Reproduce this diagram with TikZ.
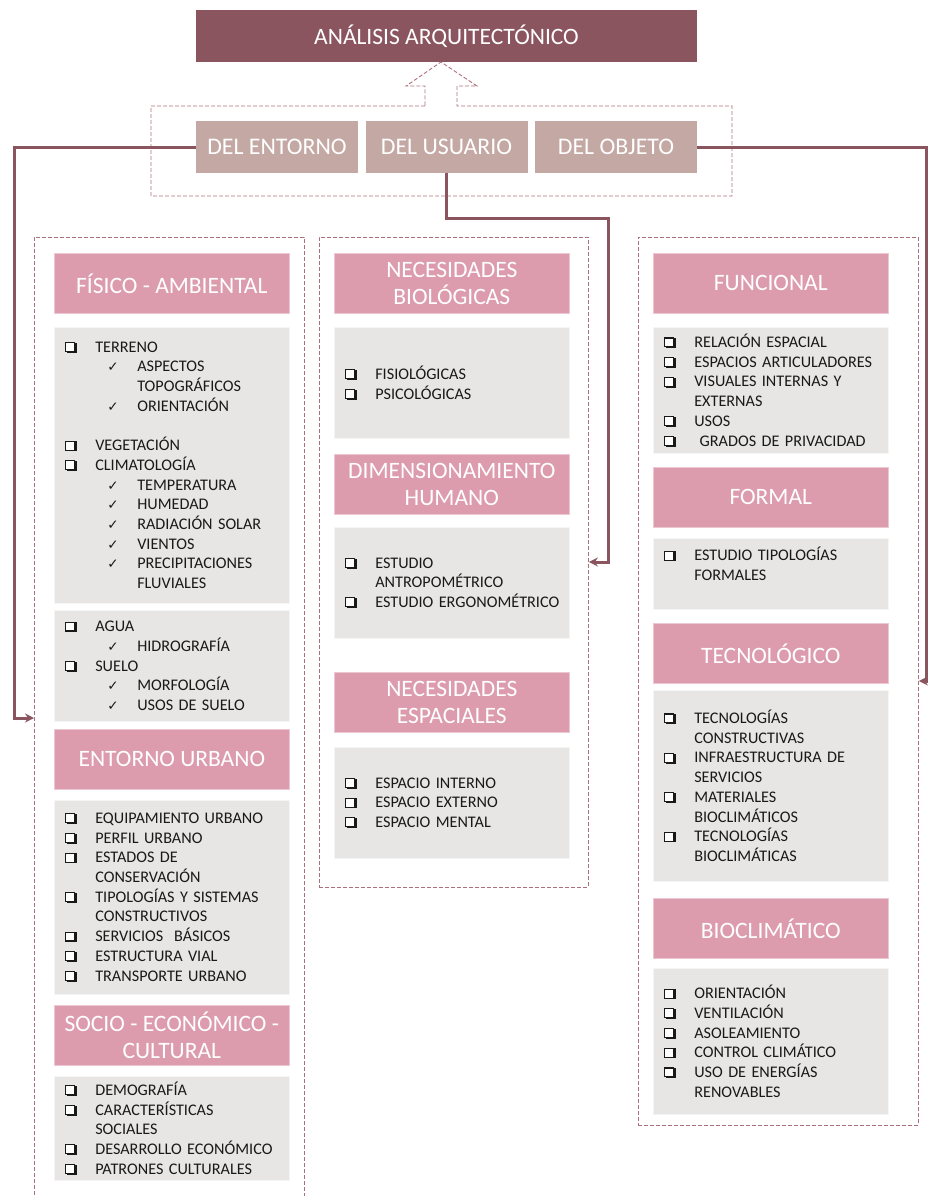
\documentclass[tikz,border=0pt]{standalone}
\usepackage{fontspec}
\setmainfont{Carlito}
\newfontfamily\symfam{DejaVu Sans}
\usepackage{tikz}
\usetikzlibrary{arrows.meta}
\definecolor{mauve}{RGB}{139,85,96}
\definecolor{dusty}{RGB}{196,168,164}
\definecolor{rosa}{RGB}{220,156,174}
\definecolor{gris}{RGB}{231,230,229}
\definecolor{dashline}{RGB}{172,112,124}
\definecolor{tinta}{RGB}{25,25,25}
\tikzset{>={Stealth[length=9pt,width=9pt]}}
\tikzset{%
    titlebox/.style={fill=mauve, text=white, minimum width=501pt, minimum height=52pt,
        inner sep=0pt, font=\fontsize{23.5}{27}\selectfont},
    groupbox/.style={fill=dusty, text=white, minimum width=162pt, minimum height=51pt,
        inner sep=0pt, font=\fontsize{23.8}{27}\selectfont},
    headbox/.style={fill=rosa, draw=rosa!55!white, line width=0.6pt, text=white,
        minimum width=235pt, minimum height=60pt, inner sep=0pt, anchor=north west,
        align=center, font=\fontsize{23.5}{27}\selectfont},
    itembox/.style={fill=gris, draw=gris!40!white, line width=0.6pt, text=tinta,
        text width=213pt, inner xsep=11pt, inner ysep=0pt, minimum height=#1,
        anchor=north west, align=left, font=\fontsize{16.2}{19.7}\selectfont},
    colframe/.style={draw=dashline, line width=0.9pt, dash pattern=on 4pt off 2pt,
        inner sep=0pt, anchor=north west},
    link/.style={draw=mauve, line width=3pt, ->}
}
% shadowed check box
\newcommand{\caja}{\raisebox{1.2pt}{\setlength{\fboxsep}{0pt}\setlength{\fboxrule}{1.1pt}%
    \rlap{\hspace*{1.8pt}\raisebox{-1.8pt}{\color{tinta}\rule{10pt}{10pt}}}%
    \fcolorbox{tinta}{white}{\rule{0pt}{7.8pt}\rule{7.8pt}{0pt}}}}
\newcommand{\itm}[1]{\makebox[30pt][l]{\caja}\mbox{#1}}
\newcommand{\sig}[1]{\hspace*{30pt}\mbox{#1}}
\newcommand{\chq}[1]{\hspace*{42pt}\makebox[30pt][l]{{\symfam\fontsize{13.5}{13.5}\selectfont ✓}}\mbox{#1}}
\newcommand{\chqsig}[1]{\hspace*{72pt}\mbox{#1}}

\begin{document}
\begin{tikzpicture}[x=1pt,y=-1pt]
    \useasboundingbox (0,0) rectangle (928,1196);
    \node[titlebox] (analisis) at (446.5,36) {ANÁLISIS ARQUITECTÓNICO};
    % dashed frame round the three groups, with the hollow arrow
    \draw[colframe] (425,106) -- (151,106) -- (151,196) -- (732,196) -- (732,106)
        -- (457,106) -- (457,86) -- (477,86) -- (441,62) -- (406,86) -- (425,86) -- cycle;
    \node[groupbox] (entorno) at (277,147) {DEL ENTORNO};
    \node[groupbox] (usuario) at (446.5,147) {DEL USUARIO};
    \node[groupbox] (objeto) at (616,147) {DEL OBJETO};

    % columns
    \node[colframe, minimum width=270pt, minimum height=990pt] (colA) at (34,237) {};
    \node[colframe, minimum width=269pt, minimum height=650pt] (colB) at (319,237) {};
    \node[colframe, minimum width=280pt, minimum height=888pt] (colC) at (638,237) {};

    % connectors
    \coordinate (turnA) at (14,718);
    \coordinate (turnB) at (608,562);
    \coordinate (turnC) at (926,681);
    \draw[link] (entorno.west) -| (turnA) -- (turnA -| colA.west);
    \draw[link] (usuario.south) -- ++(0,46) -| (turnB) -- (turnB -| colB.east);
    \draw[link] (objeto.east) -| (turnC) -- (turnC -| colC.east);

    % del entorno
    \node[headbox] (fisico) at (54,253) {FÍSICO - AMBIENTAL};
    \node[itembox=276pt] (fisicoA) at (54,327) {\itm{TERRENO}\\ \chq{ASPECTOS}\\ \chqsig{TOPOGRÁFICOS}\\
        \chq{ORIENTACIÓN}\\ \mbox{}\\ \itm{VEGETACIÓN}\\ \itm{CLIMATOLOGÍA}\\ \chq{TEMPERATURA}\\
        \chq{HUMEDAD}\\ \chq{RADIACIÓN SOLAR}\\ \chq{VIENTOS}\\ \chq{PRECIPITACIONES}\\ \chqsig{FLUVIALES}};
    \node[itembox=111pt] (fisicoB) at (54,610) {\itm{AGUA}\\ \chq{HIDROGRAFÍA}\\ \itm{SUELO}\\
        \chq{MORFOLOGÍA}\\ \chq{USOS DE SUELO}};
    \node[headbox] (urbano) at (54,729) {ENTORNO URBANO};
    \node[itembox=194pt] (urbanoA) at (54,800) {\itm{EQUIPAMIENTO URBANO}\\ \itm{PERFIL URBANO}\\
        \itm{ESTADOS DE}\\ \sig{CONSERVACIÓN}\\ \itm{TIPOLOGÍAS Y SISTEMAS}\\ \sig{CONSTRUCTIVOS}\\
        \itm{SERVICIOS\ \ BÁSICOS}\\ \itm{ESTRUCTURA VIAL}\\ \itm{TRANSPORTE URBANO}};
    \node[headbox] (socio) at (54,1005) {SOCIO - ECONÓMICO -\\CULTURAL};
    \node[itembox=104pt] (socioA) at (54,1076) {\itm{DEMOGRAFÍA}\\ \itm{CARACTERÍSTICAS}\\ \sig{SOCIALES}\\
        \itm{DESARROLLO ECONÓMICO}\\ \itm{PATRONES CULTURALES}};

    % del usuario
    \node[headbox] (biolog) at (334,253) {NECESIDADES\\BIOLÓGICAS};
    \node[itembox=111pt] (biologA) at (334,327) {\itm{FISIOLÓGICAS}\\ \itm{PSICOLÓGICAS}};
    \node[headbox] (dimen) at (334,454) {DIMENSIONAMIENTO\\HUMANO};
    \node[itembox=111pt] (dimenA) at (334,527) {\itm{ESTUDIO}\\ \sig{ANTROPOMÉTRICO}\\
        \itm{ESTUDIO ERGONOMÉTRICO}};
    \node[headbox] (espac) at (334,672) {NECESIDADES\\ESPACIALES};
    \node[itembox=111pt] (espacA) at (334,747) {\itm{ESPACIO INTERNO}\\ \itm{ESPACIO EXTERNO}\\
        \itm{ESPACIO MENTAL}};

    % del objeto
    \node[headbox] (funcional) at (653,253) {FUNCIONAL};
    \node[itembox=126pt] (funcionalA) at (653,327) {\itm{RELACIÓN ESPACIAL}\\ \itm{ESPACIOS ARTICULADORES}\\
        \itm{VISUALES INTERNAS Y}\\ \sig{EXTERNAS}\\ \itm{USOS}\\ \itm{\ GRADOS DE PRIVACIDAD}};
    \node[headbox] (formal) at (653,467) {FORMAL};
    \node[itembox=71pt] (formalA) at (653,538) {\itm{ESTUDIO TIPOLOGÍAS}\\ \sig{FORMALES}\\ \mbox{}};
    \node[headbox] (tecno) at (653,623) {TECNOLÓGICO};
    \node[itembox=191pt] (tecnoA) at (653,690) {\itm{TECNOLOGÍAS}\\ \sig{CONSTRUCTIVAS}\\
        \itm{INFRAESTRUCTURA DE}\\ \sig{SERVICIOS}\\ \itm{MATERIALES}\\ \sig{BIOCLIMÁTICOS}\\
        \itm{TECNOLOGÍAS}\\ \sig{BIOCLIMÁTICAS}};
    \node[headbox] (bioclim) at (653,898) {BIOCLIMÁTICO};
    \node[itembox=146pt] (bioclimA) at (653,968) {\itm{ORIENTACIÓN}\\ \itm{VENTILACIÓN}\\
        \itm{ASOLEAMIENTO}\\ \itm{CONTROL CLIMÁTICO}\\ \itm{USO DE ENERGÍAS}\\ \sig{RENOVABLES}};
\end{tikzpicture}
\end{document}
